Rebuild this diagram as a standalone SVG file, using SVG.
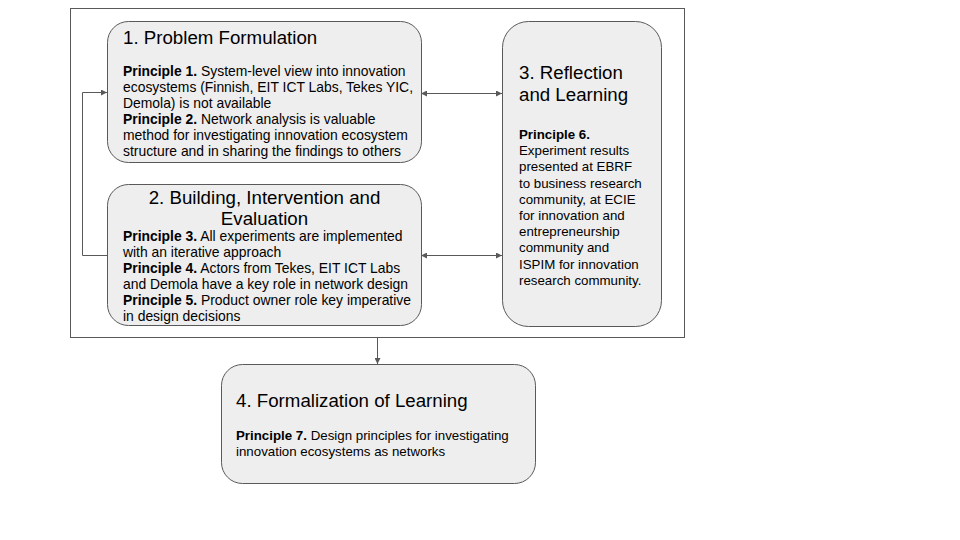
<svg xmlns="http://www.w3.org/2000/svg" width="960" height="540" viewBox="0 0 960 540">
<defs>
<style>
.box{fill:#eeeeee;stroke:#595959;stroke-width:1}
.frame{fill:none;stroke:#595959;stroke-width:1}
.conn{fill:none;stroke:#595959;stroke-width:1}
.title{font-family:"Liberation Sans",Arial,sans-serif;font-size:18.7px;fill:#000}
.body{font-family:"Liberation Sans",Arial,sans-serif;font-size:13.9px;fill:#000}
.sm{font-size:13.3px}
.b{font-weight:bold}
</style>
<marker id="ah" viewBox="0 0 10 10" refX="10" refY="5" markerWidth="7" markerHeight="6" markerUnits="userSpaceOnUse" orient="auto-start-reverse">
<path d="M0,0 L10,5 L0,10 z" fill="#595959"/>
</marker>
</defs>
<rect width="960" height="540" fill="#ffffff"/>
<rect class="frame" x="70.5" y="8.5" width="614" height="329"/>
<g id="connectors">
<polyline class="conn" points="107,255.5 82.5,255.5 82.5,92.5 107,92.5" marker-end="url(#ah)"/>
<line class="conn" x1="421" y1="93.5" x2="502" y2="93.5" marker-start="url(#ah)" marker-end="url(#ah)"/>
<line class="conn" x1="421" y1="255.5" x2="502" y2="255.5" marker-start="url(#ah)" marker-end="url(#ah)"/>
<line class="conn" x1="377.5" y1="337" x2="377.5" y2="364" marker-end="url(#ah)"/>
</g>
<g id="node1">
<rect class="box" x="107.5" y="21.5" width="314" height="141" rx="21"/>
<text class="title" x="123" y="44">1. Problem Formulation</text>
<text class="body" x="123" y="76"><tspan class="b">Principle 1.</tspan> System-level view into innovation</text>
<text class="body" x="123" y="92">ecosystems (Finnish, EIT ICT Labs, Tekes YIC,</text>
<text class="body" x="123" y="108">Demola) is not available</text>
<text class="body" x="123" y="124"><tspan class="b">Principle 2.</tspan> Network analysis is valuable</text>
<text class="body" x="123" y="140">method for investigating innovation ecosystem</text>
<text class="body" x="123" y="156">structure and in sharing the findings to others</text>
</g>
<g id="node2">
<rect class="box" x="107.5" y="184.5" width="314" height="141" rx="21"/>
<text class="title" x="264.5" y="204" text-anchor="middle">2. Building, Intervention and</text>
<text class="title" x="264.5" y="225" text-anchor="middle">Evaluation</text>
<text class="body" x="123" y="241"><tspan class="b">Principle 3.</tspan> All experiments are implemented</text>
<text class="body" x="123" y="257">with an iterative approach</text>
<text class="body" x="123" y="273"><tspan class="b">Principle 4.</tspan> Actors from Tekes, EIT ICT Labs</text>
<text class="body" x="123" y="289">and Demola have a key role in network design</text>
<text class="body" x="123" y="305"><tspan class="b">Principle 5.</tspan> Product owner role key imperative</text>
<text class="body" x="123" y="321">in design decisions</text>
</g>
<g id="node3">
<rect class="box" x="502.5" y="21.5" width="159" height="305" rx="26"/>
<text class="title" x="519" y="79">3. Reflection</text>
<text class="title" x="519" y="101">and Learning</text>
<text class="body sm b" x="519" y="139">Principle 6.</text>
<text class="body sm" x="519" y="155.2">Experiment results</text>
<text class="body sm" x="519" y="171.4">presented at EBRF</text>
<text class="body sm" x="519" y="187.6">to business research</text>
<text class="body sm" x="519" y="203.8">community, at ECIE</text>
<text class="body sm" x="519" y="220">for innovation and</text>
<text class="body sm" x="519" y="236.2">entrepreneurship</text>
<text class="body sm" x="519" y="252.4">community and</text>
<text class="body sm" x="519" y="268.6">ISPIM for innovation</text>
<text class="body sm" x="519" y="284.8">research community.</text>
</g>
<g id="node4">
<rect class="box" x="221.5" y="364.5" width="314" height="119" rx="21"/>
<text class="title" x="236" y="407">4. Formalization of Learning</text>
<text class="body sm" x="236" y="440"><tspan class="b">Principle 7.</tspan> Design principles for investigating</text>
<text class="body sm" x="236" y="456">innovation ecosystems as networks</text>
</g>
</svg>
